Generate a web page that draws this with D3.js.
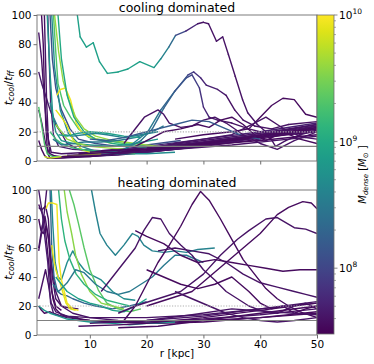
<!DOCTYPE html>
<html>
<head>
<meta charset="utf-8">
<script src="https://cdn.jsdelivr.net/npm/d3@7"></script>
<style>
body { margin: 0; background: #fff; }
text { font-family: "DejaVu Sans", sans-serif; fill: #000; }
</style>
</head>
<body>
<div id="chart"></div>
<script>
// axis settings
var xDomain = [0.7, 50];
var yDomain = [0, 100];
var xTicks = [10, 20, 30, 40, 50];
var yTicks = [0, 20, 40, 60, 80, 100];
var massDomain = [7.48, 10];          // log10 M_dense
var cbTicks = [8, 9, 10];
var refSolid = 10, refDotted = 20;
var panelTitles = ["cooling dominated", "heating dominated"];

// m = log10 M_dense (one value, or one per point), p = [r, tcool/tff]
var coolingLines = [
  {m: 7.55, p: [[1.5,100],[1.8,80],[2.0,50],[2.3,20],[2.6,5],[3,2],[5,2],[10,3],[20,6],[30,10],[40,15],[50,22]]},
  {m: 7.6, p: [[1.0,88],[1.5,70],[2.0,42],[2.5,20],[3,5],[4,3],[8,3],[15,4],[25,8],[35,13],[50,23]]},
  {m: 7.65, p: [[1.0,61],[1.6,52],[2.2,45],[3,35],[4,25],[5,19],[6,12],[8,8],[12,6],[20,6],[30,11],[40,16],[50,24]]},
  {m: 7.6, p: [[1.0,35],[1.6,25],[2.2,12],[3,4],[5,3],[10,5],[20,8],[30,12],[50,21]]},
  {m: 9.3, p: [[1.0,37],[1.5,25],[2.0,12],[2.5,5],[3.5,3],[6,3],[10,4],[14,5]]},
  {m: 7.55, p: [[1.0,14],[1.5,8],[2.0,4],[2.5,2],[4,2],[8,3],[15,5],[25,9],[35,14],[50,20]]},
  {m: 7.6, p: [[2.0,100],[2.2,70],[2.4,40],[2.7,15],[3.2,6],[5,5],[10,6],[20,9],[30,13],[40,18],[50,25]]},
  {m: 7.7, p: [[2.6,100],[2.8,75],[3.1,40],[3.6,18],[4.5,10],[7,8],[12,7],[20,10],[30,15],[40,20],[50,26]]},
  {m: 8.1, p: [[3.0,100],[3.4,70],[4,50],[5,35],[6.5,22],[8,15],[11,12],[15,10],[18,10],[22,12],[26,14]]},
  {m: 8.7, p: [[3.3,100],[3.8,64],[4.8,35],[6.2,19],[8.5,10],[11.5,6],[15,5],[20,5],[25,6]]},
  {m: 9.3, p: [[3.6,100],[4.0,75],[4.4,53],[5.4,38],[6.6,30],[8,22],[9.9,16],[12.8,14],[16,12],[20,10]]},
  {m: 9.95, p: [[4.2,45],[4.8,49],[5.7,50],[6.6,42],[7.6,26],[8.5,20],[9.8,17],[12,14],[14,12]]},
  {m: 9.9, p: [[4.0,35],[5,30],[6,24],[7,15],[8.5,8],[10,6],[12,5]]},
  {m: 9.6, p: [[3.8,100],[4.5,75],[5.3,55],[6.3,42],[7.5,30],[9,22],[11,17],[14,14],[18,12],[22,10]]},
  {m: 9.0, p: [[4.4,100],[5,70],[6,45],[7.2,30],[9,20],[11,15],[14,12],[18,10],[20,9]]},
  {m: 9.8, p: [[2.0,3],[3,2],[5,3],[8,4],[12,5]]},
  {m: 8.6, p: [[3.0,40],[3.6,30],[4.5,22],[5.5,18],[7,17],[9,18],[11,19],[13,18],[16,16],[19,18],[22,20]]},
  {m: 8.8, p: [[2.5,100],[3,60],[3.5,30],[4,20],[5,14],[7,12],[10,11],[14,10],[18,12],[22,15]]},
  {m: 9.2, p: [[3,20],[4,15],[5,12],[7,9],[10,7],[14,6],[18,5]]},
  {m: 8.5, p: [[3.5,15],[5,11],[7,12],[9,13],[12,13],[15,14],[18,16],[21,20],[23,24]]},
  {m: 9.6, p: [[4,25],[5,20],[6,15],[8,12],[10,10],[13,9],[16,8]]},
  {m: 8.9, p: [[4.5,18],[6,17],[8,19],[10,20],[13,19],[16,17],[19,16]]},
  {m: [8.9,8.9,8.9,8.9,8.9,8.9,8.9,8.9,8.9,8.9,8.7,8.5,8.2,7.9,7.6,7.6,7.6,7.6,7.6,7.6,7.6,7.6,7.6,7.6,7.6,7.6,7.6,7.6,7.6],
   p: [[7.8,100],[8.3,85],[9.4,78],[10.6,81],[11.7,68],[13.1,60],[15,61],[16.7,63],[18.8,68],[21.3,64],[22.5,70],[23.9,78],[25.1,86],[26.9,89],[29,94],[30,95],[30.9,94],[32.3,82],[33.4,85],[34.4,73],[35.6,58],[36.9,42],[37.8,33],[39.5,25],[41.3,19],[42.7,10],[44.5,14],[47,18],[50,21]]},
  {m: [8.8,8.8,8.7,8.6,8.4,8.2,8.0,7.9,7.8,7.7,7.7,7.6,7.6,7.6,7.6,7.6,7.6,7.6],
   p: [[12,4],[15,5],[17.6,12],[20.2,20],[22.5,35],[24.8,47],[27.3,59],[28.3,61],[29.5,57],[30.5,52],[32.5,49],[34,45],[35.5,35],[37,28],[39,24],[42,22],[45,25],[50,27]]},
  {m: [8.7,8.6,8.5,8.4,8.3,8.2,8.1,8.0,7.9,7.8,7.7,7.6,7.6,7.6,7.6,7.6,7.6],
   p: [[13,6],[16,8],[19,14],[21,22],[23,36],[25,48],[27,57],[28,59],[29.3,50],[30,37],[31,30],[32.5,28],[35,26],[38,22],[42,18],[46,20],[50,22]]},
  {m: 7.6, p: [[16,12],[17.6,20],[19.6,30],[22,35],[23,32],[24,26],[26,23],[28,24],[30,28],[32,30],[34,26],[37,18],[40,12],[43,8],[46,14],[50,20]]},
  {m: 7.55, p: [[18,10],[20,14],[23,20],[26,22],[29,25],[31,23],[33,28],[35,30],[37,25],[39,18],[41,14],[44,20],[47,15],[50,12]]},
  {m: 7.55, p: [[25,15],[30,18],[35,20],[38,22],[40,30],[42,38],[44,43],[46,42],[48,32],[50,30]]},
  {m: 7.6, p: [[20,8],[25,12],[30,15],[35,18],[39,26],[41,30],[43,25],[45,20],[48,16],[50,15]]},
  {m: 8.2, p: [[10,15],[13,14],[16,16],[19,19],[22,22],[25,25],[28,28],[31,27],[34,22],[37,17],[40,15]]},
  {m: 7.55, p: [[5,3],[10,3],[20,7],[30,12],[40,17],[50,22]]},
  {m: 7.6, p: [[6,4],[12,4],[20,8],[30,13],[40,18],[50,24]]},
  {m: 7.55, p: [[8,5],[15,6],[25,10],[35,15],[45,20],[50,23]]},
  {m: 7.6, p: [[10,6],[20,9],[30,14],[40,19],[50,25]]},
  {m: 7.55, p: [[12,7],[20,8],[30,11],[40,14],[50,18]]},
  {m: 7.6, p: [[15,5],[25,8],[35,11],[45,15],[50,17]]}
];

var heatingLines = [
  {m: 7.55, p: [[1,90],[1.5,85],[2,80],[2.5,60],[3,40],[3.5,25],[4,18],[5,14],[7,12],[10,10],[15,9],[20,8],[30,10],[40,12],[50,15]]},
  {m: 7.6, p: [[1,60],[1.6,75],[2.1,82],[2.6,70],[3.2,50],[4,30],[5,20],[7,15],[10,12],[15,10],[20,9],[30,11],[40,14],[50,18]]},
  {m: 7.6, p: [[1,25],[1.6,35],[2.2,45],[2.7,35],[3.2,22],[4,16],[6,13],[10,12],[20,12],[30,14],[40,18],[50,22]]},
  {m: 7.55, p: [[1,20],[1.5,17],[2,15],[3,16],[4,14],[6,12],[10,10],[15,9],[22,8],[30,9],[40,12],[50,16]]},
  {m: 7.6, p: [[1,88],[1.5,86],[2.2,89],[2.7,80],[3,60],[3.4,40],[4,25],[5,20],[6,19],[8,18]]},
  {m: 7.55, p: [[1,80],[1.4,72],[1.8,70],[2.3,75],[2.8,65],[3.3,30],[4,20],[5,17]]},
  {m: 7.6, p: [[1,58],[1.5,70],[2,85],[2.4,100]]},
  {m: 7.65, p: [[1,100],[1.6,85],[2,70],[2.6,50],[3.1,22],[3.6,15],[5,13],[8,12]]},
  {m: 8.7, p: [[3.2,100],[3.5,75],[3.9,50],[4.4,40],[5,38],[6,50],[7,58],[8,50],[9,45],[10,42],[12,38],[14,30],[16,25],[18,24]]},
  {m: 8.3, p: [[3.0,100],[3.3,60],[3.7,40],[4.3,30],[5,28],[6,27],[7,25],[9,22],[11,20],[14,18],[17,20],[20,23]]},
  {m: 9.35, p: [[6.4,100],[7.2,90],[8,77],[9,60],[10,45],[11.5,31],[13,22],[15,18],[17,16],[19,18]]},
  {m: 8.6, p: [[10.3,100],[11,85],[11.8,70],[13,62],[14.5,55],[16,62],[17.5,70],[18.5,68],[19.5,62],[21,58],[23,57],[25,58],[27,57],[29,59],[32,60]]},
  {m: 9.95, p: [[2.3,87],[2.7,91],[3.5,91],[4.2,90],[4.4,70],[4.6,50],[5,38],[5.5,30],[6,22],[7,18],[8,17]]},
  {m: 9.9, p: [[3.3,62],[3.6,53],[4,45],[4.6,38],[5.2,30],[5.8,22],[6.5,18],[7.5,17]]},
  {m: 9.55, p: [[5.5,100],[6,85],[6.8,70],[7.5,55],[8.5,42],[10,30],[12,22],[14,20],[16,18]]},
  {m: 9.1, p: [[4.5,100],[5,80],[5.6,65],[6.5,52],[7.6,42],[9,35],[11,28],[13,24],[15,22],[17,20]]},
  {m: 8.8, p: [[1,20],[2,17],[3,15],[4.5,13],[6,11],[8,10],[10,9],[14,8],[17,7],[20,8],[25,9]]},
  {m: 8.5, p: [[3.5,35],[4.5,30],[6,36],[7.5,45],[9,43],[11,35],[13,30],[15,28],[17,30],[19,35],[21,40],[23,48],[25,55],[27,55],[30,50]]},
  {m: 8.9, p: [[4,40],[5,35],[6,30],[8,25],[10,22],[12,20],[14,17],[16,16],[18,20],[20,25]]},
  {m: 7.55, p: [[16,10],[18,20],[20,35],[22,50],[24,62],[26,75],[28,90],[29.5,99],[31,93],[33,80],[35,66],[37,52],[39,42],[41,32],[43,25],[45,20],[47,16],[50,12]]},
  {m: 7.6, p: [[12,30],[15,45],[18,60],[19.5,72],[21,81],[22.5,80],[24,70],[26,62],[28,55],[30,45],[32,38],[34,30],[36,25],[38,20],[40,17],[43,15],[46,20],[48,22],[50,18]]},
  {m: 7.55, p: [[20,20],[24,25],[28,30],[31,40],[34,50],[37,60],[40,70],[43,83],[45,88],[47.5,92],[49,91],[50,87]]},
  {m: 7.6, p: [[15,15],[18,20],[22,25],[26,30],[30,42],[33,55],[36,66],[38,72],[41,80],[43,81],[46,74],[48,73],[50,70]]},
  {m: 7.55, p: [[18,72],[20,68],[23,63],[26,55],[29,50],[32,52],[35,50],[38,48],[41,46],[44,44],[47,45],[50,45]]},
  {m: 7.6, p: [[22,58],[25,60],[28,58],[31,56],[34,50],[37,42],[40,36],[43,33],[46,30],[48,28],[50,26]]},
  {m: 7.55, p: [[20,45],[23,40],[26,35],[29,32],[32,35],[35,40],[38,30],[40,22],[42,18],[44,20],[46,15],[48,18],[50,20]]},
  {m: 7.6, p: [[25,30],[28,25],[31,20],[34,15],[37,12],[40,10],[43,9],[46,10],[50,12]]},
  {m: 7.55, p: [[8,6],[15,7],[20,8],[30,12],[40,17],[50,22]]},
  {m: 7.6, p: [[10,8],[20,10],[30,13],[40,18],[50,23]]},
  {m: 7.55, p: [[15,5],[22,6],[30,10],[40,15],[50,20]]},
  {m: 7.6, p: [[20,10],[28,14],[35,18],[42,16],[50,14]]}
];

var W = 374, H = 364;
var plotLeft = 37, plotRight = 317;
var panels = [{top: 15, bottom: 161, labels: false}, {top: 190, bottom: 335, labels: true}];

var svg = d3.select("#chart").append("svg")
    .attr("width", W)
    .attr("height", H);

var x = d3.scaleLinear().domain(xDomain).range([plotLeft, plotRight]);
var color = d3.scaleSequential(d3.interpolateViridis).domain(massDomain);

function drawPanel(lines, pos, title, id) {
    var y = d3.scaleLinear().domain(yDomain).range([pos.bottom, pos.top]);
    var g = svg.append("g");

    svg.append("clipPath").attr("id", id)
      .append("rect")
        .attr("x", plotLeft).attr("y", pos.top)
        .attr("width", plotRight - plotLeft).attr("height", pos.bottom - pos.top);

    var plot = g.append("g").attr("clip-path", "url(#" + id + ")");
    var line = d3.line().x(function(d) { return x(d[0]); }).y(function(d) { return y(d[1]); });

    lines.forEach(function(l) {
        if (Array.isArray(l.m)) {
            // colour changes along the path
            for (var i = 0; i < l.p.length - 1; i++) {
                plot.append("path")
                    .attr("d", line([l.p[i], l.p[i + 1]]))
                    .attr("fill", "none")
                    .attr("stroke", color((l.m[i] + l.m[i + 1]) / 2))
                    .attr("stroke-width", 1.4)
                    .attr("stroke-linecap", "round");
            }
        } else {
            plot.append("path")
                .attr("d", line(l.p))
                .attr("fill", "none")
                .attr("stroke", color(l.m))
                .attr("stroke-width", 1.4)
                .attr("stroke-linejoin", "round");
        }
    });

    g.append("line")
        .attr("x1", plotLeft).attr("x2", plotRight)
        .attr("y1", y(refSolid)).attr("y2", y(refSolid))
        .attr("stroke", "#808080").attr("stroke-width", 1.2);
    g.append("line")
        .attr("x1", plotLeft).attr("x2", plotRight)
        .attr("y1", y(refDotted)).attr("y2", y(refDotted))
        .attr("stroke", "#b0b0b0").attr("stroke-width", 1.2)
        .attr("stroke-dasharray", "1.2,1.5");

    // frame
    g.append("rect")
        .attr("x", plotLeft).attr("y", pos.top)
        .attr("width", plotRight - plotLeft).attr("height", pos.bottom - pos.top)
        .attr("fill", "none").attr("stroke", "#6e6e6e").attr("stroke-width", 0.9);

    var yAxis = g.append("g")
        .attr("transform", "translate(" + plotLeft + ",0)")
        .call(d3.axisLeft(y).tickValues(yTicks).tickSize(3.5).tickPadding(2));
    var xAxis = g.append("g")
        .attr("transform", "translate(0," + pos.bottom + ")")
        .call(d3.axisBottom(x).tickValues(xTicks).tickSize(3.5).tickPadding(2)
              .tickFormat(pos.labels ? d3.format("d") : function() { return ""; }));
    [yAxis, xAxis].forEach(function(a) {
        a.select(".domain").remove();
        a.selectAll("line").attr("stroke", "#6e6e6e");
        a.selectAll("text").style("font-size", "10.5px").style("font-family", "DejaVu Sans");
    });

    g.append("text")
        .attr("x", (plotLeft + plotRight) / 2)
        .attr("y", pos.top - 3.5)
        .attr("text-anchor", "middle")
        .style("font-size", "12.5px")
        .text(title);

    // y label t_cool / t_ff
    var yl = g.append("text")
        .attr("transform", "translate(12," + ((pos.top + pos.bottom) / 2) + ") rotate(-90)")
        .attr("text-anchor", "middle")
        .style("font-size", "11px");
    yl.append("tspan").style("font-style", "italic").text("t");
    yl.append("tspan").style("font-style", "italic").style("font-size", "8px").attr("dy", 2).text("cool");
    yl.append("tspan").attr("dy", -2).text("/");
    yl.append("tspan").style("font-style", "italic").text("t");
    yl.append("tspan").style("font-style", "italic").style("font-size", "8px").attr("dy", 2).text("ff");
}

drawPanel(coolingLines, panels[0], panelTitles[0], "clipTop");
drawPanel(heatingLines, panels[1], panelTitles[1], "clipBottom");

svg.append("text")
    .attr("x", (plotLeft + plotRight) / 2)
    .attr("y", 357)
    .attr("text-anchor", "middle")
    .style("font-size", "10.5px")
    .text("r [kpc]");

// colour bar
var cbX = 317, cbW = 17, cbTop = 15, cbBottom = 334;
var cbScale = d3.scaleLinear().domain(massDomain).range([cbBottom, cbTop]);
var grad = svg.append("defs").append("linearGradient")
    .attr("id", "cbGrad").attr("x1", 0).attr("y1", 1).attr("x2", 0).attr("y2", 0);
d3.range(0, 1.0001, 0.05).forEach(function(t) {
    grad.append("stop").attr("offset", t).attr("stop-color", d3.interpolateViridis(t));
});
svg.append("rect")
    .attr("x", cbX).attr("y", cbTop).attr("width", cbW).attr("height", cbBottom - cbTop)
    .attr("fill", "url(#cbGrad)")
    .attr("stroke", "#6e6e6e").attr("stroke-width", 0.8);

var minorTicks = [];
[7, 8, 9].forEach(function(e) {
    for (var k = 2; k <= 9; k++) {
        var v = e + Math.log10(k);
        if (v >= massDomain[0] && v <= massDomain[1]) minorTicks.push(v);
    }
});
svg.selectAll(".cbminor").data(minorTicks).enter().append("line")
    .attr("x1", cbX + cbW).attr("x2", cbX + cbW + 2)
    .attr("y1", function(d) { return cbScale(d); }).attr("y2", function(d) { return cbScale(d); })
    .attr("stroke", "#6e6e6e").attr("stroke-width", 0.6);
svg.selectAll(".cbmajor").data(cbTicks).enter().append("line")
    .attr("x1", cbX + cbW).attr("x2", cbX + cbW + 3.5)
    .attr("y1", function(d) { return cbScale(d); }).attr("y2", function(d) { return cbScale(d); })
    .attr("stroke", "#6e6e6e").attr("stroke-width", 0.8);
var cbLab = svg.selectAll(".cblab").data(cbTicks).enter().append("text")
    .attr("x", cbX + cbW + 5)
    .attr("y", function(d) { return cbScale(d) + 4; })
    .style("font-size", "10.5px");
cbLab.append("tspan").text("10");
cbLab.append("tspan").attr("dy", -5).style("font-size", "7.5px").text(function(d) { return d; });

var cbTitle = svg.append("text")
    .attr("transform", "translate(366," + ((cbTop + cbBottom) / 2) + ") rotate(-90)")
    .attr("text-anchor", "middle")
    .style("font-size", "10px");
cbTitle.append("tspan").style("font-style", "italic").text("M");
cbTitle.append("tspan").style("font-style", "italic").style("font-size", "7px").attr("dy", 2).text("dense");
cbTitle.append("tspan").attr("dy", -2).text(" [");
cbTitle.append("tspan").style("font-style", "italic").text("M");
cbTitle.append("tspan").style("font-size", "7px").attr("dy", 2).text("\u2299");
cbTitle.append("tspan").attr("dy", -2).text(" ]");
</script>
</body>
</html>
